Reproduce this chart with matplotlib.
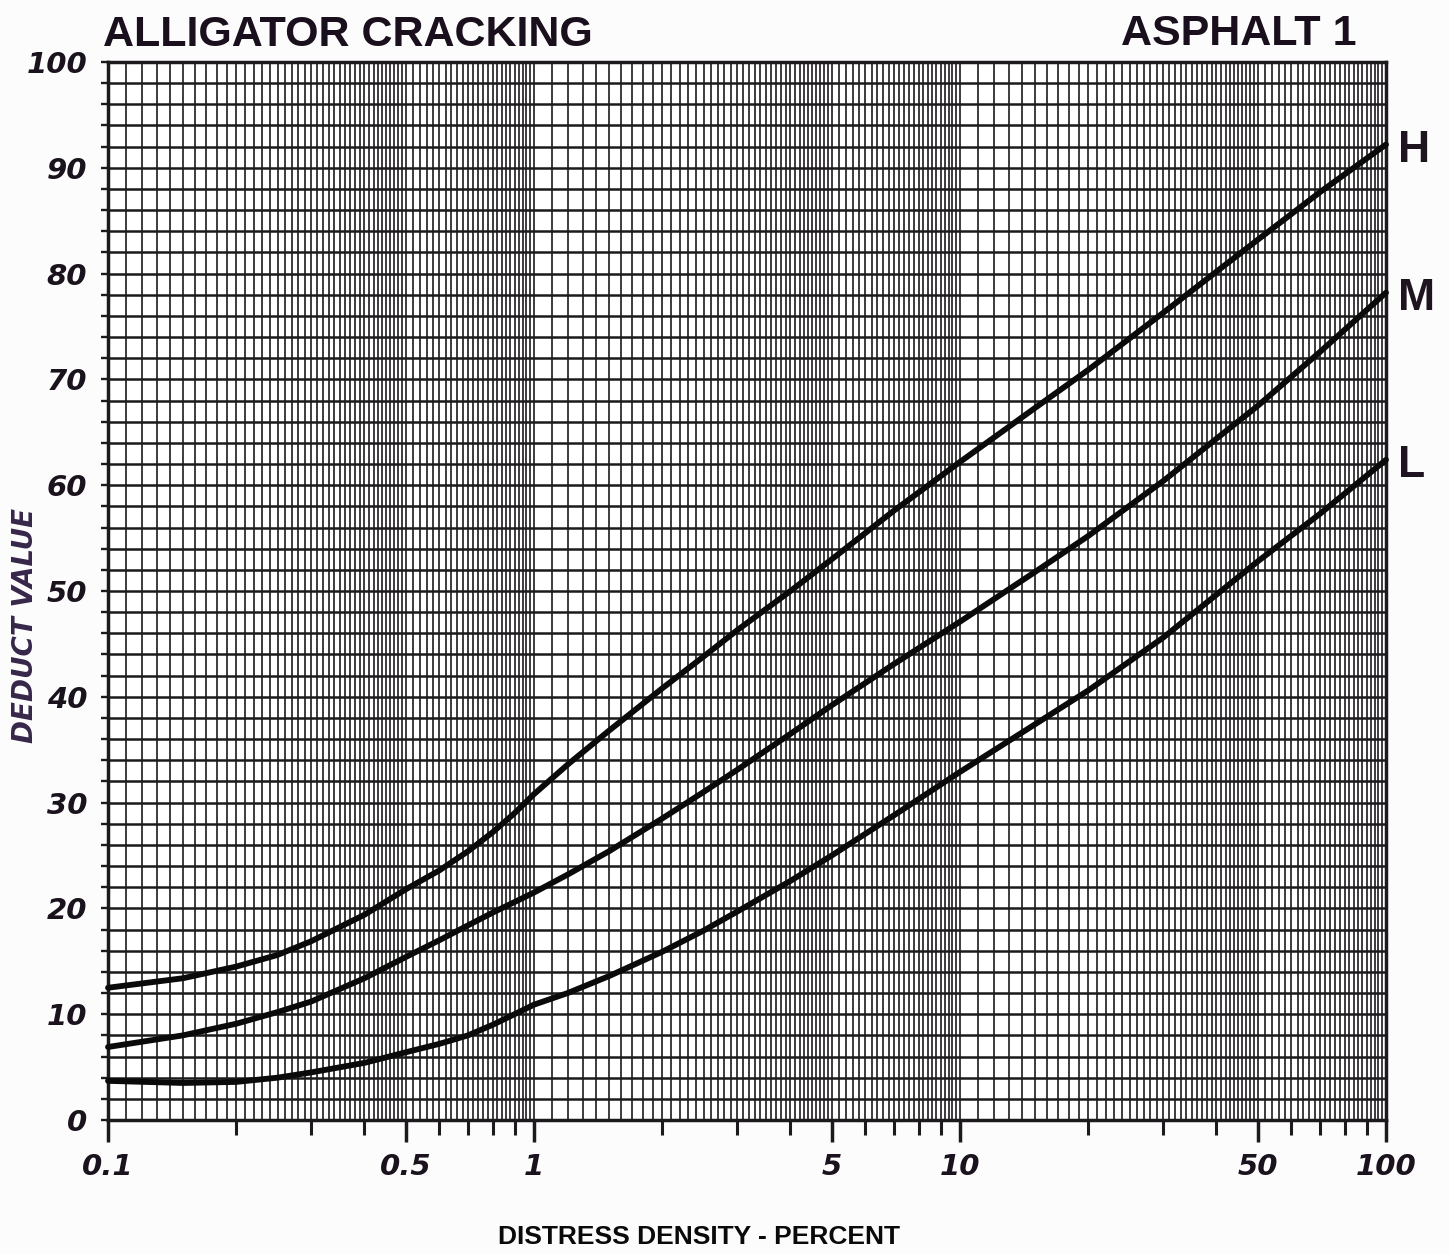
import numpy as np
import matplotlib
matplotlib.use("Agg")
import matplotlib.pyplot as plt
from matplotlib import transforms
from matplotlib.ticker import FixedLocator, FixedFormatter, NullFormatter

# ---- data ----
density = [0.1, 0.15, 0.2, 0.25, 0.3, 0.4, 0.5, 0.6, 0.7, 0.8, 0.9, 1.0, 1.2, 1.5,
           2.0, 2.5, 3.0, 4.0, 5.0, 7.0, 10.0, 15.0, 20.0, 30.0, 50.0, 70.0, 100.0]
deduct_H = [12.5, 13.4, 14.5, 15.6, 16.9, 19.4, 21.8, 23.6, 25.4, 27.2, 29.0, 30.8, 33.6, 36.8,
            40.8, 43.8, 46.3, 50.0, 53.0, 57.6, 62.2, 67.3, 70.9, 76.3, 83.2, 87.7, 92.2]
deduct_M = [6.9, 8.0, 9.1, 10.2, 11.2, 13.4, 15.4, 17.0, 18.4, 19.6, 20.6, 21.5, 23.2, 25.4,
            28.5, 31.0, 33.1, 36.5, 39.2, 43.1, 47.1, 51.8, 55.2, 60.4, 67.5, 72.6, 78.2]
deduct_L = [3.7, 3.5, 3.6, 4.0, 4.5, 5.4, 6.4, 7.2, 8.0, 9.0, 10.0, 10.9, 12.0, 13.6,
            15.9, 17.9, 19.7, 22.6, 25.0, 28.8, 32.9, 37.4, 40.6, 45.6, 52.8, 57.3, 62.4]
series = [("H", deduct_H), ("M", deduct_M), ("L", deduct_L)]

x_major_labels = ["0.1", "0.5", "1", "5", "10", "50", "100"]
x_major_vals = [0.1, 0.5, 1, 5, 10, 50, 100]
y_tick_vals = [0, 10, 20, 30, 40, 50, 60, 70, 80, 90, 100]

title_left = "ALLIGATOR CRACKING"
title_right = "ASPHALT 1"
xlabel = "DISTRESS DENSITY - PERCENT"
ylabel = "DEDUCT VALUE"

W, H = 1449, 1254
fig = plt.figure(figsize=(W / 100, H / 100), dpi=100)
fig.patch.set_facecolor("#fdfcfd")

L, R, B, T = 108, 1386, 1120, 62
ax = fig.add_axes([L / W, 1 - B / H, (R - L) / W, (B - T) / H])
ax.set_facecolor("white")
ax.set_xscale("log")
ax.set_xlim(0.1, 100)
ax.set_ylim(0, 100)

gridc = "#1c1a1c"
# log-paper vertical lines
for d in [0.1, 1, 10]:
    for v in np.concatenate([np.arange(1, 5, 0.1), np.arange(5, 10, 0.2)]) * d:
        ax.axvline(v, color=gridc, lw=1.2, zorder=1)
# horizontal lines every 2
for yv in np.arange(0, 101, 2):
    ax.axhline(yv, color=gridc, lw=1.8, zorder=1)

for name, vals in series:
    ax.plot(density, vals, color="#0a0a0a", lw=4.2, solid_capstyle="round",
            solid_joinstyle="round", zorder=3, clip_on=False)

for sp in ax.spines.values():
    sp.set_linewidth(2.5)
    sp.set_color(gridc)

# ticks
ax.xaxis.set_major_locator(FixedLocator(x_major_vals))
ax.xaxis.set_major_formatter(FixedFormatter(x_major_labels))
minor = []
for d in [0.1, 1, 10]:
    minor += [k * d for k in [2, 3, 4, 6, 7, 8, 9]]
ax.xaxis.set_minor_locator(FixedLocator(minor))
ax.xaxis.set_minor_formatter(NullFormatter())
ax.tick_params(axis="x", which="major", length=16, width=2.5, direction="out",
               pad=8, color=gridc)
ax.tick_params(axis="x", which="minor", length=11, width=2.2, direction="out", color=gridc)
ax.yaxis.set_major_locator(FixedLocator(y_tick_vals))
ax.yaxis.set_minor_locator(FixedLocator(list(np.arange(0, 101, 2))))
ax.tick_params(axis="y", which="both", length=5, width=1.7, direction="out", pad=10, color=gridc)

for lab in ax.get_xticklabels() + ax.get_yticklabels():
    lab.set_fontfamily("DejaVu Sans")
    lab.set_fontweight("bold")
    lab.set_fontstyle("italic")
    lab.set_fontsize(21)
    lab.set_color("#1a121c")

# curve labels
off = transforms.offset_copy(ax.transData, fig=fig, x=12, y=-6, units="dots")
for name, vals in series:
    ax.text(density[-1], vals[-1], name, transform=off, ha="left", va="center",
            fontsize=32, fontweight="bold", family="Liberation Sans",
            color="#1e1420", clip_on=False)

txtc = "#1a0f1c"
fig.text(103 / W, 1 - 46 / H, title_left, ha="left", va="baseline", fontsize=31,
         fontweight="bold", family="Liberation Sans", color=txtc)
fig.text(1357 / W, 1 - 45 / H, title_right, ha="right", va="baseline", fontsize=31,
         fontweight="bold", family="Liberation Sans", color=txtc)
fig.text(25 / W, 1 - 625 / H, ylabel, rotation=90, ha="center", va="center",
         fontsize=20, fontweight="bold", style="italic", family="DejaVu Sans",
         color="#35264a")
fig.text(699 / W, 1 - 1237 / H, xlabel, ha="center", va="center", fontsize=19,
         fontweight="bold", family="Liberation Sans", color="#0a0a0a")

fig.savefig("out.png", dpi=100, facecolor=fig.get_facecolor())
